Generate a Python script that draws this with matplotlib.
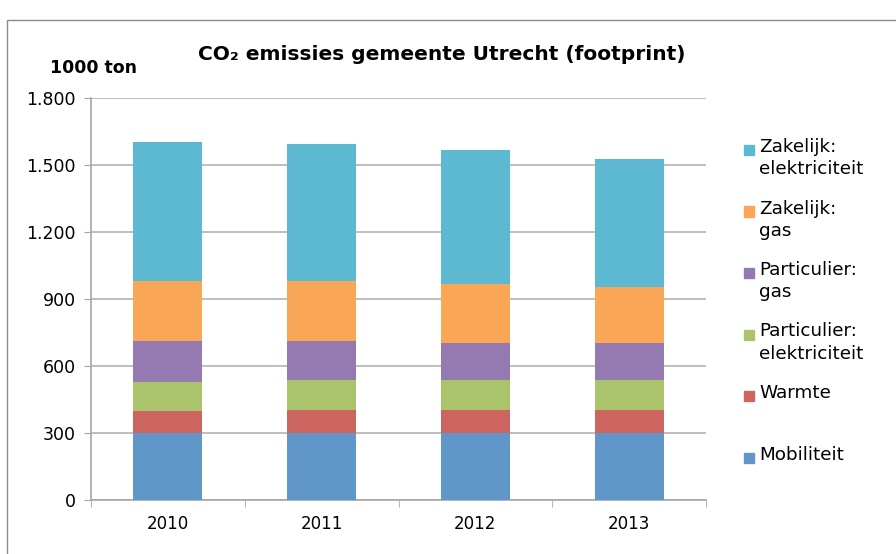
import numpy as np
import matplotlib.pyplot as plt
from matplotlib.patches import Rectangle
from matplotlib.ticker import FuncFormatter

plt.rcParams['font.family'] = ['DejaVu Sans']

# data (1000 ton), bottom to top
years = ['2010', '2011', '2012', '2013']
mobiliteit = [298, 298, 298, 298]
warmte = [100, 104, 104, 104]
part_elek = [131, 134, 134, 134]
part_gas = [183, 176, 166, 166]
zak_gas = [268, 268, 266, 250]
zak_elek = [624, 615, 599, 576]

series = [mobiliteit, warmte, part_elek, part_gas, zak_gas, zak_elek]
labels = ['Mobiliteit', 'Warmte', 'Particulier:\nelektriciteit', 'Particulier:\ngas',
          'Zakelijk:\ngas', 'Zakelijk:\nelektriciteit']
colors = ['#6196C9', '#CC655F', '#A9C46B', '#947AB0', '#F9A756', '#5DB9D1']

fig = plt.figure(figsize=(8.96, 5.54), dpi=100)
ax = fig.add_axes([91/896, 1 - 500/554, (706 - 91)/896, (500 - 98)/554])

x = np.arange(len(years))
bottom = np.zeros(len(years))
for vals, col in zip(series, colors):
    ax.bar(x, vals, width=0.45, bottom=bottom, color=col, zorder=3)
    bottom += np.array(vals)

ax.set_ylim(0, 1800)
ax.set_xlim(-0.5, 3.5)
ax.set_yticks(range(0, 1801, 300))
ax.yaxis.set_major_formatter(FuncFormatter(lambda v, p: f'{int(v):,}'.replace(',', '.')))
ax.set_xticks(x)
ax.set_xticklabels(years)
ax.set_xticks(np.arange(-0.5, 3.6, 1), minor=True)
ax.tick_params(axis='x', which='major', length=0, pad=11, labelsize=12)
ax.tick_params(axis='x', which='minor', length=5, color='#A6A6A6', direction='out')
ax.tick_params(axis='y', length=5, color='#A6A6A6', labelsize=12.5, pad=6)
ax.grid(axis='y', color='#B3B3B3', linewidth=1.2, zorder=0)
for s in ['top', 'right']:
    ax.spines[s].set_visible(False)
for s in ['left', 'bottom']:
    ax.spines[s].set_color('#A6A6A6')
    ax.spines[s].set_linewidth(1.2)

fig.text(442/896, 1 - 55/554, 'CO\u2082 emissies gemeente Utrecht (footprint)',
         ha='center', va='center', fontsize=14.5, fontweight='bold')
fig.text(50/896, 1 - 68/554, '1000 ton', ha='left', va='center',
         fontsize=12.5, fontweight='bold')

# legend, top entry first
for i, (lab, col) in enumerate(zip(labels[::-1], colors[::-1])):
    yc = 150 + 61.5 * i
    fig.patches.append(Rectangle((744/896, 1 - (yc + 5)/554), 10/896, 10/554,
                                 transform=fig.transFigure, color=col))
    fig.text(759/896, 1 - (yc - 12)/554, lab, ha='left', va='top',
             fontsize=13.2, linespacing=1.3)

# outer chart border
fig.patches.append(Rectangle((7/896, -0.1), 1.2, 1 - 20/554 + 0.1,
                             transform=fig.transFigure, fill=False,
                             edgecolor='#8C8C8C', linewidth=1))

fig.savefig('out.png', dpi=100)
